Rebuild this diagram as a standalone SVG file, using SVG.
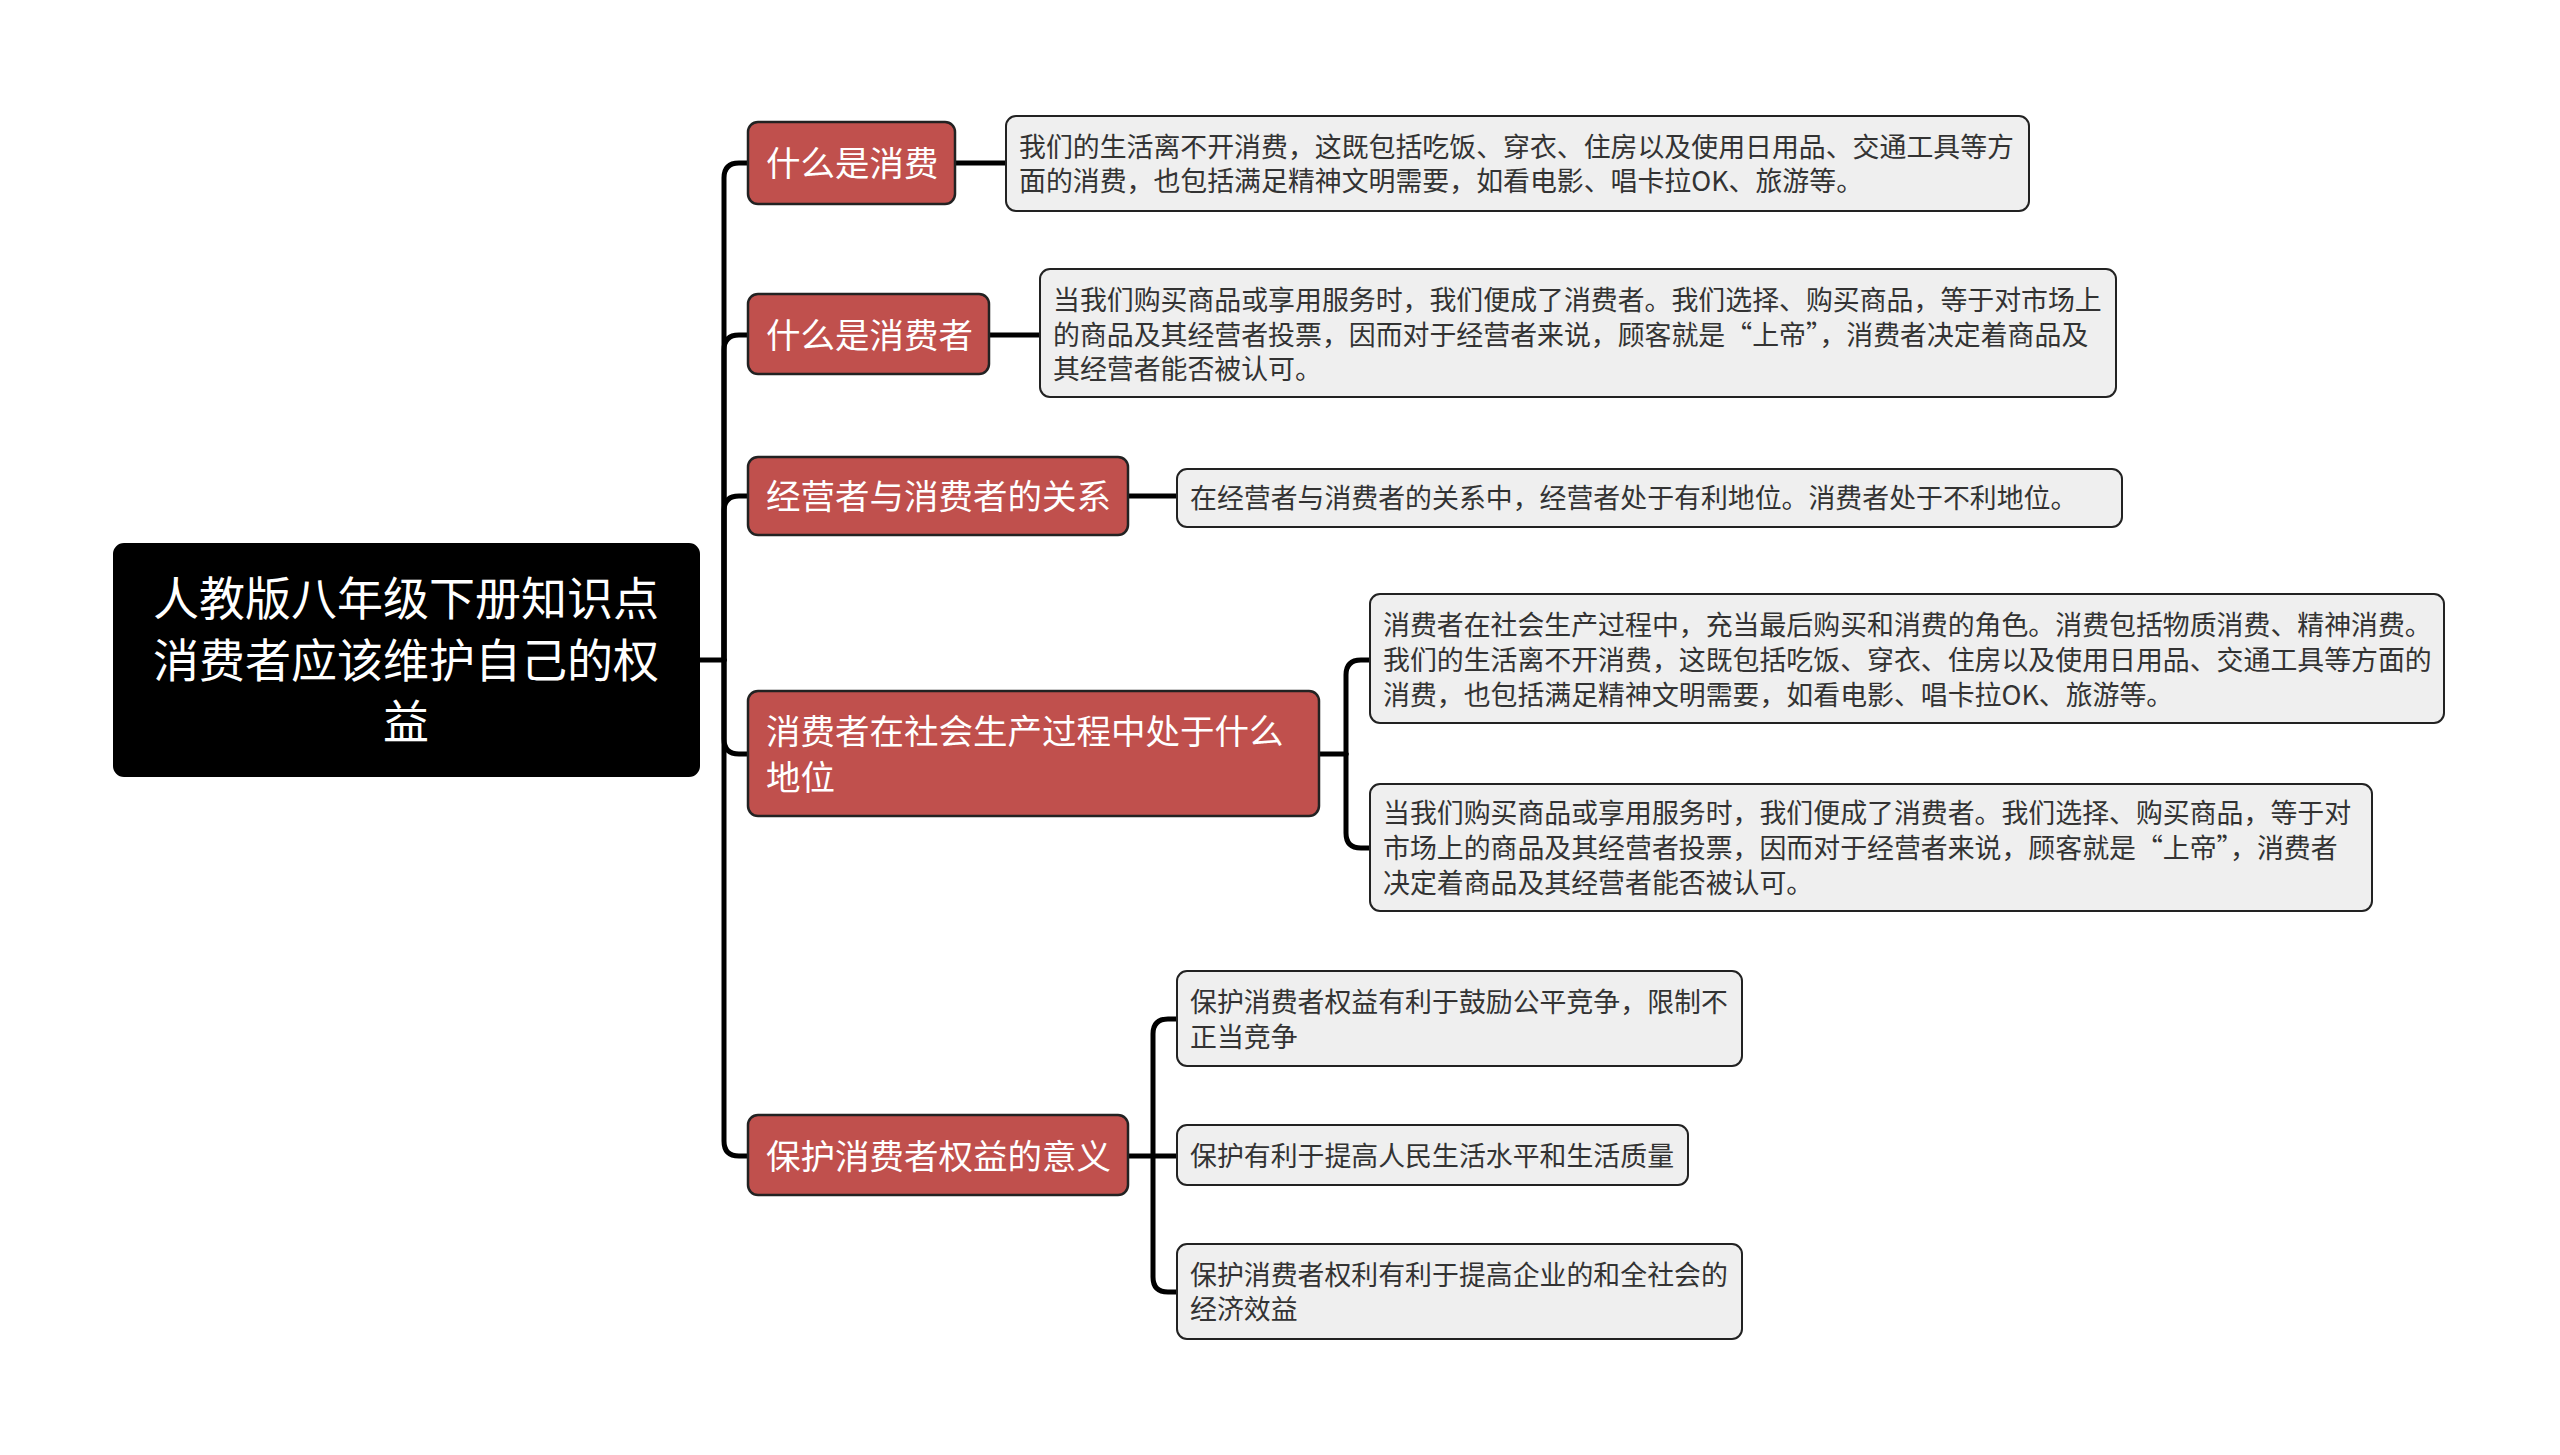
<svg xmlns="http://www.w3.org/2000/svg" width="2560" height="1455" viewBox="0 0 2560 1455">
<style>
.root rect{fill:#000;stroke:#000;stroke-width:2}
.root text{fill:#fff;font-family:"Noto Sans CJK SC","Noto Sans",sans-serif;font-size:46px;text-anchor:middle;dominant-baseline:central}
.l1 rect{fill:#c0504d;stroke:#222;stroke-width:2.5}
.l1 text{fill:#fff;font-family:"Noto Sans CJK SC","Noto Sans",sans-serif;font-size:34.5px;dominant-baseline:central}
.l2 rect{fill:#efefef;stroke:#222;stroke-width:2}
.l2 text{fill:#333;font-family:"Noto Sans CJK SC","Noto Sans",sans-serif;font-size:26.9px;dominant-baseline:central}
#connectors path{fill:none;stroke:#000;stroke-width:5;stroke-linecap:round;stroke-linejoin:round}
</style>
<rect width="2560" height="1455" fill="#fff"/>
<g id="connectors">
<path d="M699 660 H724"/>
<path d="M724 660 V178 Q724 163 739 163 H748"/>
<path d="M724 660 V350 Q724 335 739 335 H748"/>
<path d="M724 660 V511 Q724 496 739 496 H748"/>
<path d="M724 660 V739 Q724 754 739 754 H748"/>
<path d="M724 660 V1141 Q724 1156 739 1156 H748"/>
<path d="M955 163 H1006"/>
<path d="M989 335 H1040"/>
<path d="M1128 496 H1177"/>
<path d="M1319 754 H1346"/>
<path d="M1346 754 V675 Q1346 660 1361 660 H1370"/>
<path d="M1346 754 V833 Q1346 848 1361 848 H1370"/>
<path d="M1128 1156 H1153"/>
<path d="M1153 1156 V1034 Q1153 1019 1168 1019 H1177"/>
<path d="M1153 1156 H1177"/>
<path d="M1153 1156 V1277 Q1153 1292 1168 1292 H1177"/>
</g>
<g id="root" class="root">
<rect x="114" y="544" width="585" height="232" rx="10"/>
<text x="406" y="595">人教版八年级下册知识点</text>
<text x="406" y="657">消费者应该维护自己的权</text>
<text x="406" y="718">益</text>
</g>
<g id="n1" class="l1">
<rect x="748" y="122" width="207" height="82" rx="10"/>
<text x="766" y="161">什么是消费</text>
</g>
<g id="n2" class="l1">
<rect x="748" y="294" width="241" height="80" rx="10"/>
<text x="766" y="333">什么是消费者</text>
</g>
<g id="n3" class="l1">
<rect x="748" y="457" width="380" height="78" rx="10"/>
<text x="766" y="494">经营者与消费者的关系</text>
</g>
<g id="n4" class="l1">
<rect x="748" y="691" width="571" height="125" rx="10"/>
<text x="766" y="729">消费者在社会生产过程中处于什么</text>
<text x="766" y="775">地位</text>
</g>
<g id="n5" class="l1">
<rect x="748" y="1115" width="380" height="80" rx="10"/>
<text x="766" y="1154">保护消费者权益的意义</text>
</g>
<g id="n1a" class="l2">
<rect x="1006" y="116" width="1023" height="95" rx="10"/>
<text x="1019" y="145">我们的生活离不开消费，这既包括吃饭、穿衣、住房以及使用日用品、交通工具等方</text>
<text x="1019" y="179">面的消费，也包括满足精神文明需要，如看电影、唱卡拉OK、旅游等。</text>
</g>
<g id="n2a" class="l2">
<rect x="1040" y="269" width="1076" height="128" rx="10"/>
<text x="1053" y="298">当我们购买商品或享用服务时，我们便成了消费者。我们选择、购买商品，等于对市场上</text>
<text x="1053" y="333">的商品及其经营者投票，因而对于经营者来说，顾客就是“上帝”，消费者决定着商品及</text>
<text x="1053" y="367">其经营者能否被认可。</text>
</g>
<g id="n3a" class="l2">
<rect x="1177" y="469" width="945" height="58" rx="10"/>
<text x="1190" y="496">在经营者与消费者的关系中，经营者处于有利地位。消费者处于不利地位。</text>
</g>
<g id="n4a" class="l2">
<rect x="1370" y="594" width="1074" height="129" rx="10"/>
<text x="1383" y="623">消费者在社会生产过程中，充当最后购买和消费的角色。消费包括物质消费、精神消费。</text>
<text x="1383" y="658">我们的生活离不开消费，这既包括吃饭、穿衣、住房以及使用日用品、交通工具等方面的</text>
<text x="1383" y="693">消费，也包括满足精神文明需要，如看电影、唱卡拉OK、旅游等。</text>
</g>
<g id="n4b" class="l2">
<rect x="1370" y="784" width="1002" height="127" rx="10"/>
<text x="1383" y="811">当我们购买商品或享用服务时，我们便成了消费者。我们选择、购买商品，等于对</text>
<text x="1383" y="846">市场上的商品及其经营者投票，因而对于经营者来说，顾客就是“上帝”，消费者</text>
<text x="1383" y="881">决定着商品及其经营者能否被认可。</text>
</g>
<g id="n5a" class="l2">
<rect x="1177" y="971" width="565" height="95" rx="10"/>
<text x="1190" y="1000">保护消费者权益有利于鼓励公平竞争，限制不</text>
<text x="1190" y="1035">正当竞争</text>
</g>
<g id="n5b" class="l2">
<rect x="1177" y="1125" width="511" height="60" rx="10"/>
<text x="1190" y="1154">保护有利于提高人民生活水平和生活质量</text>
</g>
<g id="n5c" class="l2">
<rect x="1177" y="1244" width="565" height="95" rx="10"/>
<text x="1190" y="1273">保护消费者权利有利于提高企业的和全社会的</text>
<text x="1190" y="1307">经济效益</text>
</g>
</svg>
